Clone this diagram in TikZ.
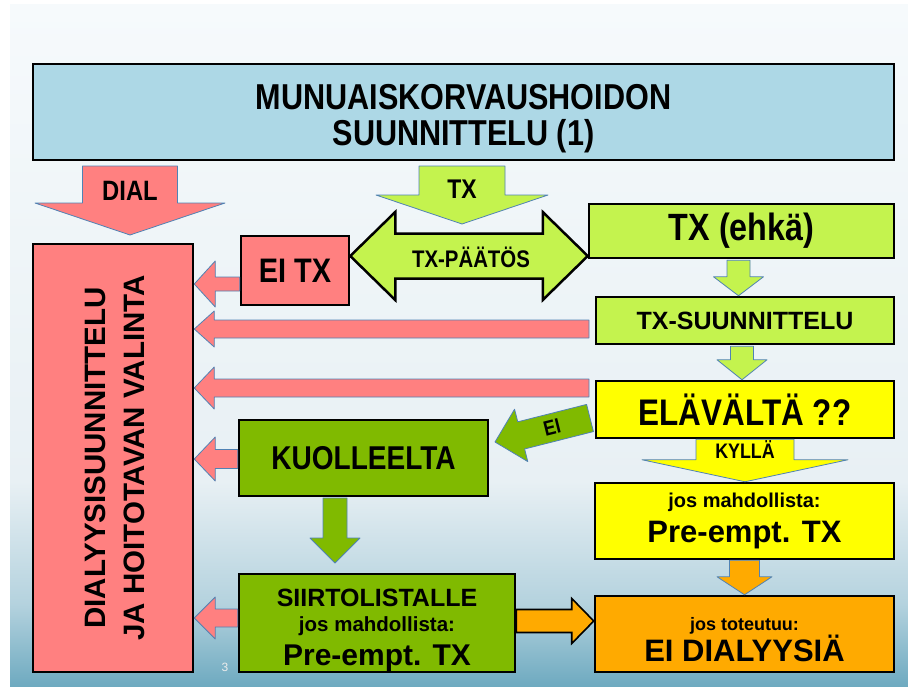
\documentclass[tikz,border=0pt]{standalone}
\usepackage{fontspec}
\usepackage{graphicx}
\setmainfont{Liberation Sans}
\newfontfamily\condfont{Liberation Sans}[FakeStretch=0.85]
\usetikzlibrary{calc}

\definecolor{titulo}{RGB}{173,216,230}
\definecolor{rojo}{RGB}{255,128,128}
\definecolor{verdeclaro}{RGB}{196,243,78}
\definecolor{verdeoscuro}{RGB}{128,186,0}
\definecolor{amarillo}{RGB}{255,255,0}
\definecolor{naranja}{RGB}{255,170,0}
\definecolor{borde}{RGB}{80,130,180}
\definecolor{fondoA}{RGB}{110,170,192}
\definecolor{fondoB}{RGB}{180,210,222}
\definecolor{fondoC}{RGB}{232,240,244}
\definecolor{fondoD}{RGB}{246,250,252}

\pgfdeclareverticalshading{diapo}{100bp}{color(0bp)=(fondoA); color(25bp)=(fondoA); color(31bp)=(fondoB); color(40bp)=(fondoC); color(75bp)=(fondoD); color(100bp)=(fondoD)}

\newcommand{\fs}[1]{\fontsize{#1}{#1}\selectfont}
\newcommand{\alto}[1]{\rule{0pt}{#1}}

% flecha gruesa: [estilo]{origen}{punta}{medio ancho}{medio ancho punta}{largo punta}
\newcommand{\flecha}[6][]{%
  \coordinate (fb) at ($(#3)!#6!(#2)$);
  \filldraw[#1] ($(#2)!#4!90:(#3)$) -- ($(fb)!#4!-90:(#2)$) -- ($(fb)!#5!-90:(#2)$) -- (#3)
    -- ($(fb)!#5!90:(#2)$) -- ($(fb)!#4!90:(#2)$) -- ($(#2)!#4!-90:(#3)$) -- cycle;
}
% flecha doble: [estilo]{punta 1}{punta 2}{medio ancho}{medio ancho punta}{largo punta}
\newcommand{\flechadoble}[6][]{%
  \coordinate (fd1) at ($(#2)!#6!(#3)$);
  \coordinate (fd2) at ($(#3)!#6!(#2)$);
  \filldraw[#1] (#2) -- ($(fd1)!#5!90:(#3)$) -- ($(fd1)!#4!90:(#3)$) -- ($(fd2)!#4!-90:(#2)$)
    -- ($(fd2)!#5!-90:(#2)$) -- (#3) -- ($(fd2)!#5!90:(#2)$) -- ($(fd2)!#4!90:(#2)$)
    -- ($(fd1)!#4!-90:(#3)$) -- ($(fd1)!#5!-90:(#3)$) -- cycle;
}

\begin{document}
\begin{tikzpicture}[x=1pt, y=-1pt,
    caja/.style={draw=black, line width=2.5pt, inner sep=0pt, align=center},
    flecha/.style={draw=borde, line width=0.8pt, line join=round},
    rotulo/.style={inner sep=0pt, font=\bfseries}]

    % 0. Fondo de la diapositiva
    \useasboundingbox (0,0) rectangle (908,686);
    \fill[white] (0,0) rectangle (908,686);
    \shade[shading=diapo] (10,4) rectangle (908,686);

    % 1. Cajas
    \node[caja, fill=titulo, minimum width=861pt, minimum height=96pt,
          font=\condfont\bfseries\fontsize{36}{36}\selectfont] (titulo) at (463.5,112)
          {\alto{38pt}MUNUAISKORVAUSHOIDON\\SUUNNITTELU (1)};
    \node[caja, fill=rojo, minimum width=160pt, minimum height=428pt,
          font=\bfseries\fontsize{29.5}{39}\selectfont] (dialisis) at (113,458)
          {\hspace*{8pt}\rotatebox{90}{\begin{tabular}{@{}c@{}}DIALYYSISUUNNITTELU\\JA HOITOTAVAN VALINTA\end{tabular}}};
    \node[caja, fill=rojo, minimum width=108pt, minimum height=69pt,
          font=\condfont\bfseries\fs{34}] (eitx) at (295,270.5) {EI TX};
    \node[caja, fill=verdeoscuro, minimum width=249pt, minimum height=76pt,
          font=\condfont\bfseries\fs{33}] (kuol) at (363.5,458) {KUOLLEELTA};
    \node[caja, fill=verdeoscuro, minimum width=276pt, minimum height=98pt,
          font=\bfseries\fontsize{30}{30}\selectfont] (siirto) at (377,623)
          {{\fs{25}\alto{32pt}SIIRTOLISTALLE}\\[-5pt]{\fs{20.5}jos mahdollista:}\\[4pt]Pre-empt. TX};
    \node[caja, fill=verdeclaro, minimum width=305pt, minimum height=54pt,
          font=\condfont\bfseries\fs{38}] (ehka) at (741.5,231) {TX (ehkä)};
    \node[caja, fill=verdeclaro, minimum width=298pt, minimum height=47pt,
          font=\bfseries\fs{25}] (suunn) at (745,320.5) {TX-SUUNNITTELU};
    \node[caja, fill=amarillo, minimum width=298pt, minimum height=57pt,
          font=\condfont\bfseries\fs{37}] (elav) at (745,409.5) {ELÄVÄLTÄ ??};
    \node[caja, fill=amarillo, minimum width=299pt, minimum height=76pt,
          font=\bfseries\fontsize{31}{35}\selectfont] (preempt) at (744.5,521)
          {{\fs{20}jos mahdollista:}\\Pre-empt. TX};
    \node[caja, fill=naranja, minimum width=299pt, minimum height=76pt,
          font=\bfseries\fontsize{31}{31}\selectfont] (eidial) at (744.5,634)
          {{\fs{18}\alto{24pt}jos toteutuu:}\\EI DIALYYSIÄ};

    % 2. Flechas grandes desde el título
    \coordinate (dialA) at (130,166);
    \coordinate (dialB) at (130,235);
    \flecha[flecha, fill=rojo]{dialA}{dialB}{47.5pt}{95pt}{32pt}
    \node[rotulo, font=\condfont\bfseries\fs{28}] (diallbl) at (130,191) {DIAL};

    \coordinate (txA) at (462,166);
    \coordinate (txB) at (462,224);
    \flecha[flecha, fill=verdeclaro]{txA}{txB}{43pt}{86pt}{29pt}
    \node[rotulo, font=\condfont\bfseries\fs{27}] (txlbl) at (462,189) {TX};

    % 3. Decisión (flecha doble)
    \coordinate (pA) at (eitx.east |- 0,256);
    \coordinate (pB) at (ehka.west |- 0,256);
    \flechadoble[draw=black, line width=2.5pt, line join=miter, fill=verdeclaro]{pA}{pB}{22.5pt}{44pt}{45pt}
    \node[rotulo, font=\condfont\bfseries\fs{24}] (plbl) at (471,257) {TX-PÄÄTÖS};

    % 4. Flechas rojas hacia la diálisis
    \coordinate (r1A) at (eitx.west |- 0,284);
    \coordinate (r1B) at (dialisis.east |- r1A);
    \flecha[flecha, fill=rojo]{r1A}{r1B}{7pt}{23pt}{21pt}
    \coordinate (r2A) at (589,329);
    \coordinate (r2B) at (dialisis.east |- r2A);
    \flecha[flecha, fill=rojo]{r2A}{r2B}{9pt}{18pt}{20pt}
    \coordinate (r3A) at (589,388);
    \coordinate (r3B) at (dialisis.east |- r3A);
    \flecha[flecha, fill=rojo]{r3A}{r3B}{9pt}{21pt}{20pt}
    \coordinate (r4A) at (kuol.west |- 0,459);
    \coordinate (r4B) at (dialisis.east |- r4A);
    \flecha[flecha, fill=rojo]{r4A}{r4B}{9.5pt}{22pt}{21pt}
    \coordinate (r5A) at (siirto.west |- 0,618);
    \coordinate (r5B) at (dialisis.east |- r5A);
    \flecha[flecha, fill=rojo]{r5A}{r5B}{9pt}{21pt}{21pt}

    % 5. Camino del trasplante
    \coordinate (g1A) at ($(ehka.south)+(-3,1)$);
    \coordinate (g1B) at (g1A |- suunn.north);
    \flecha[flecha, fill=verdeclaro]{g1A}{g1B}{11.5pt}{25pt}{19pt}
    \coordinate (g2A) at ($(suunn.south)+(-3,1)$);
    \coordinate (g2B) at (g2A |- elav.north);
    \flecha[flecha, fill=verdeclaro]{g2A}{g2B}{11.5pt}{25pt}{20pt}

    \coordinate (kA) at (elav.south);
    \coordinate (kB) at (kA |- preempt.north);
    \flecha[flecha, fill=amarillo]{kA}{kB}{49pt}{103pt}{22pt}
    \node[rotulo, font=\condfont\bfseries\fs{21}] (klbl) at (745,450) {KYLLÄ};

    \coordinate (eiA) at (590,418);
    \coordinate (eiB) at (495,442);
    \flecha[flecha, fill=verdeoscuro]{eiA}{eiB}{14pt}{27pt}{27pt}
    \node[rotulo, rotate=14, font=\condfont\bfseries\fs{21}] (eilbl) at (552,427) {EI};

    \coordinate (vA) at (335,498);
    \coordinate (vB) at (335,563);
    \flecha[flecha, fill=verdeoscuro]{vA}{vB}{12pt}{25pt}{25pt}

    \coordinate (oA) at (preempt.south);
    \coordinate (oB) at (oA |- eidial.north);
    \flecha[flecha, fill=naranja]{oA}{oB}{15pt}{27.5pt}{18pt}
    \coordinate (o2A) at (siirto.east |- 0,621);
    \coordinate (o2B) at (eidial.west |- o2A);
    \flecha[draw=black, line width=1.6pt, fill=naranja]{o2A}{o2B}{11.5pt}{22.5pt}{22pt}

    % 6. Número de página
    \node[inner sep=0pt, text=white!85!gray, font=\fs{12}] (pagina) at (225,667) {3};

\end{tikzpicture}
\end{document}
